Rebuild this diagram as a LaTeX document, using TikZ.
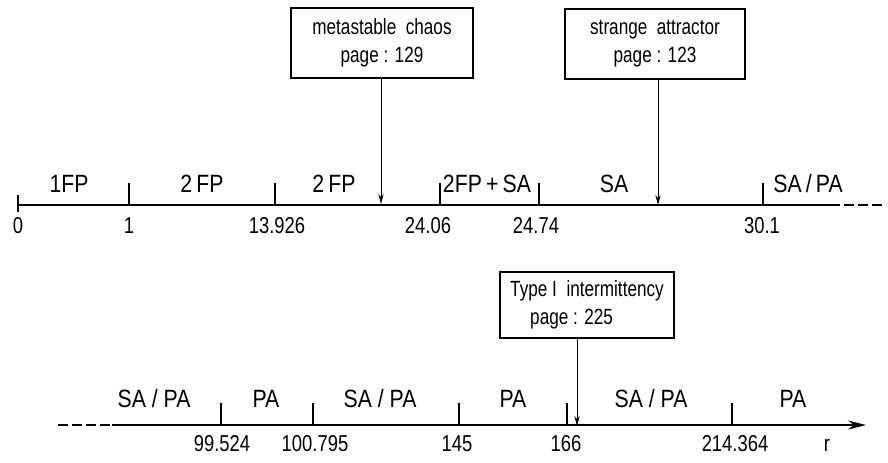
\documentclass[tikz,border=0pt]{standalone}
\usepackage{fontspec}
\setmainfont{Liberation Sans}
\newfontfamily\labelfont[FakeStretch=0.85]{Liberation Sans}
\newfontfamily\numfont[FakeStretch=0.8]{Liberation Sans}
\newfontfamily\boxfont[FakeStretch=0.78]{Liberation Sans}
\usetikzlibrary{arrows.meta}

\tikzset{
	region/.style={anchor=base, inner sep=0pt, font={\labelfont\fontsize{12.5}{14}\selectfont}},
	value/.style={anchor=base, inner sep=0pt, font={\numfont\fontsize{11.5}{14}\selectfont}},
	refbox/.style={draw, line width=0.8pt, inner sep=0pt, font={\boxfont\fontsize{11}{14}\selectfont}},
	axis/.style={line width=1pt},
	tickmark/.style={line width=0.6pt},
}

\begin{document}
\begin{tikzpicture}[x=0.5pt, y=-0.5pt, >={Stealth[length=5pt,width=2.6pt]}]
						\useasboundingbox (0,0) rectangle (888,462);

						% boxes with references
						\node[refbox, align=center, minimum width=91pt, minimum height=35pt] (box1) at (382,43) {metastable\ \ chaos\\page : 129};
						\node[refbox, align=center, minimum width=90pt, minimum height=35pt] (box2) at (655,44) {strange\ \ attractor\\page : 123};
						\node[refbox, align=left, minimum width=87pt, minimum height=33pt] (box3) at (587,305) {Type I\ \ intermittency\\\hspace*{10pt}page : 225};

						% upper axis
						\coordinate (a0) at (18,205);
						\coordinate (a1) at (830,205);
						\coordinate (a2) at (886,205);
						\draw[axis] (a0) -- (a1);
						\draw[axis, dash pattern=on 5pt off 2pt] (a1) -- (a2);

						\coordinate (k0) at (18,212);
						\coordinate (k1) at (129,205);
						\coordinate (k2) at (275,205);
						\coordinate (k3) at (440,205);
						\coordinate (k4) at (539,205);
						\coordinate (k5) at (763,205);
						\draw[tickmark] (k0) -- ++(0,-17);
						\draw[tickmark] (k1) -- ++(0,-22);
						\draw[tickmark] (k2) -- ++(0,-22);
						\draw[tickmark] (k3) -- ++(0,-22);
						\draw[tickmark] (k4) -- ++(0,-22);
						\draw[tickmark] (k5) -- ++(0,-22);

						\node[region] (r1) at (69,192) {1FP};
						\node[region] (r2) at (202,192) {2\,FP};
						\node[region] (r3) at (334,192) {2\,FP};
						\node[region] (r4) at (487,192) {2FP\,+\,SA};
						\node[region] (r5) at (614,192) {SA};
						\node[region] (r6) at (808,192) {SA\,/\,PA};

						\node[value] (v0) at (18,233) {0};
						\node[value] (v1) at (129,233) {1};
						\node[value] (v2) at (277,233) {13.926};
						\node[value] (v3) at (428,233) {24.06};
						\node[value] (v4) at (536,233) {24.74};
						\node[value] (v5) at (762,233) {30.1};

						% lower axis
						\coordinate (b0) at (58,425);
						\coordinate (b1) at (112,425);
						\coordinate (b2) at (866,425);
						\draw[axis, dash pattern=on 5pt off 2pt] (b0) -- (b1);
						\draw[axis, -{Stealth[length=9pt,width=4.5pt]}] (b1) -- (b2);

						\coordinate (m1) at (221,425);
						\coordinate (m2) at (313,425);
						\coordinate (m3) at (459,425);
						\coordinate (m4) at (567,425);
						\coordinate (m5) at (732,425);
						\draw[tickmark] (m1) -- ++(0,-22);
						\draw[tickmark] (m2) -- ++(0,-22);
						\draw[tickmark] (m3) -- ++(0,-22);
						\draw[tickmark] (m4) -- ++(0,-22);
						\draw[tickmark] (m5) -- ++(0,-22);

						\node[region] (s1) at (154,407) {SA / PA};
						\node[region] (s2) at (266,407) {PA};
						\node[region] (s3) at (380,407) {SA / PA};
						\node[region] (s4) at (513,407) {PA};
						\node[region] (s5) at (651,407) {SA / PA};
						\node[region] (s6) at (793,407) {PA};

						\node[value] (w1) at (222,451) {99.524};
						\node[value] (w2) at (315,451) {100.795};
						\node[value] (w3) at (457,451) {145};
						\node[value] (w4) at (566,451) {166};
						\node[value] (w5) at (735,451) {214.364};
						\node[value] (wr) at (827,451) {r};

						% arrows onto the axes
						\coordinate (p1) at (381,204);
						\coordinate (p2) at (658,205);
						\coordinate (p3) at (577,426);
						\draw[->] (box1.south -| p1) to (p1);
						\draw[->] (box2.south -| p2) to (p2);
						\draw[->] (box3.south -| p3) to (p3);

					\end{tikzpicture}
\end{document}
